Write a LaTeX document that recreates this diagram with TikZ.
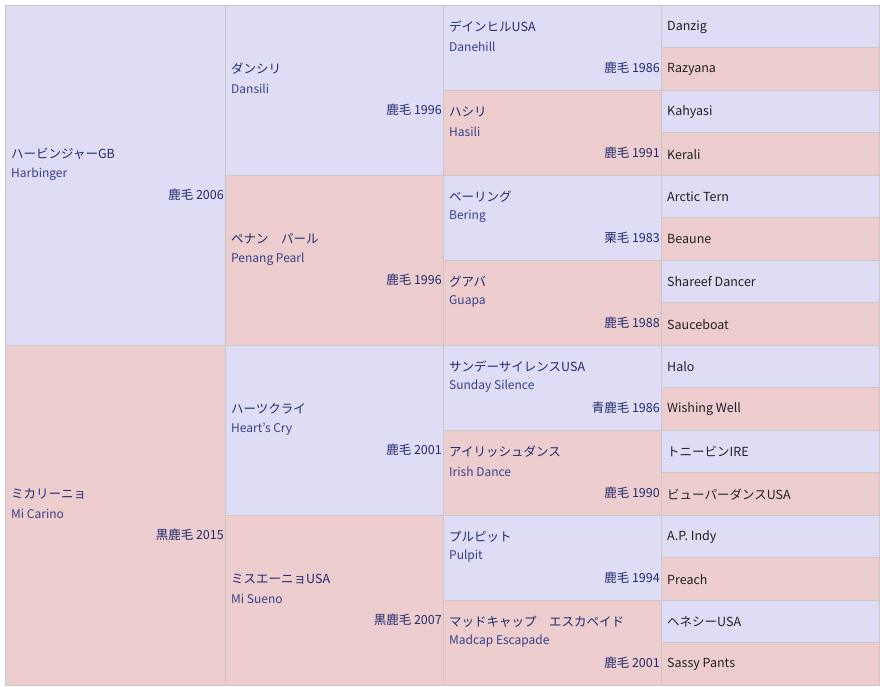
\documentclass[tikz,border=0pt]{standalone}
\usepackage{fontspec}
\setmainfont{Noto Sans CJK JP}
\usepackage{xcolor}
\usepackage{tikz}
\usetikzlibrary{calc,positioning}

\definecolor{sirecol}{HTML}{DFDCF6}
\definecolor{damcol}{HTML}{EECDCF}
\definecolor{gridcol}{HTML}{C8C8C8}
\definecolor{jpcol}{HTML}{1F2B6E}
\definecolor{encol}{HTML}{34428A}
\definecolor{anccol}{HTML}{202122}

\tikzset{
	jname/.style={anchor=west,inner sep=0pt,text=jpcol,font=\fontsize{12.5}{14}\selectfont},
	ename/.style={anchor=west,inner sep=0pt,text=encol,font=\fontsize{12}{13}\selectfont},
	yname/.style={anchor=east,inner sep=0pt,text=jpcol,font=\fontsize{12.5}{14}\selectfont},
	ancname/.style={anchor=west,inner sep=0pt,text=anccol,font=\fontsize{12.5}{14}\selectfont}
}

% name, left, right, centre, japanese, english, colour and year
\newcommand{\horse}[7]{%
	\node[jname] (#1) at (#2+6,#4-21) {#5};
	\node[ename] (#1en) at (#2+6,#4-1) {#6};
	\node[yname] (#1yr) at (#3-1,#4+20) {#7};
}

\begin{document}
\begin{tikzpicture}[x=1pt,y=-1pt]
		\useasboundingbox (0,0) rectangle (880,687);
		\fill[white] (0,0) rectangle (880,687);
		\foreach \l/\r/\n in {5/225/2,225/443/4,443/661/8,661/879/16} {
			\foreach \i in {1,...,\n} {
				\pgfmathsetmacro\ya{5+(\i-1)*680/\n}
				\pgfmathsetmacro\yb{5+\i*680/\n}
				\ifodd\i \def\cc{sirecol}\else\def\cc{damcol}\fi
				\fill[\cc] (\l,\ya) rectangle (\r,\yb);
				\draw[gridcol] (\l,\ya) rectangle (\r,\yb);
			}
		}
		\draw[gridcol] (5,5) rectangle (879,685);
		\horse{harbinger}{5}{225}{175}{ハービンジャーGB}{Harbinger}{鹿毛 2006}
		\horse{micarino}{5}{225}{515}{ミカリーニョ}{Mi Carino}{黒鹿毛 2015}
		\horse{dansili}{225}{443}{90}{ダンシリ}{Dansili}{鹿毛 1996}
		\horse{penang}{225}{443}{260}{ペナン　パール}{Penang Pearl}{鹿毛 1996}
		\horse{heartscry}{225}{443}{430}{ハーツクライ}{Heart's Cry}{鹿毛 2001}
		\horse{misueno}{225}{443}{600}{ミスエーニョUSA}{Mi Sueno}{黒鹿毛 2007}
		\horse{danehill}{443}{661}{47.5}{デインヒルUSA}{Danehill}{鹿毛 1986}
		\horse{hasili}{443}{661}{132.5}{ハシリ}{Hasili}{鹿毛 1991}
		\horse{bering}{443}{661}{217.5}{ベーリング}{Bering}{栗毛 1983}
		\horse{guapa}{443}{661}{302.5}{グアバ}{Guapa}{鹿毛 1988}
		\horse{sunday}{443}{661}{387.5}{サンデーサイレンスUSA}{Sunday Silence}{青鹿毛 1986}
		\horse{irish}{443}{661}{472.5}{アイリッシュダンス}{Irish Dance}{鹿毛 1990}
		\horse{pulpit}{443}{661}{557.5}{プルピット}{Pulpit}{鹿毛 1994}
		\horse{madcap}{443}{661}{642.5}{マッドキャップ　エスカペイド}{Madcap Escapade}{鹿毛 2001}
		\foreach \nm [count=\k from 0] in {Danzig,Razyana,Kahyasi,Kerali,Arctic Tern,Beaune,Shareef Dancer,Sauceboat,Halo,Wishing Well,トニービンIRE,ビューパーダンスUSA,A.P. Indy,Preach,ヘネシーUSA,Sassy Pants}
			\node[ancname] (anc\k) at (667,26.75+42.5*\k) {\nm};
	\end{tikzpicture}
\end{document}
